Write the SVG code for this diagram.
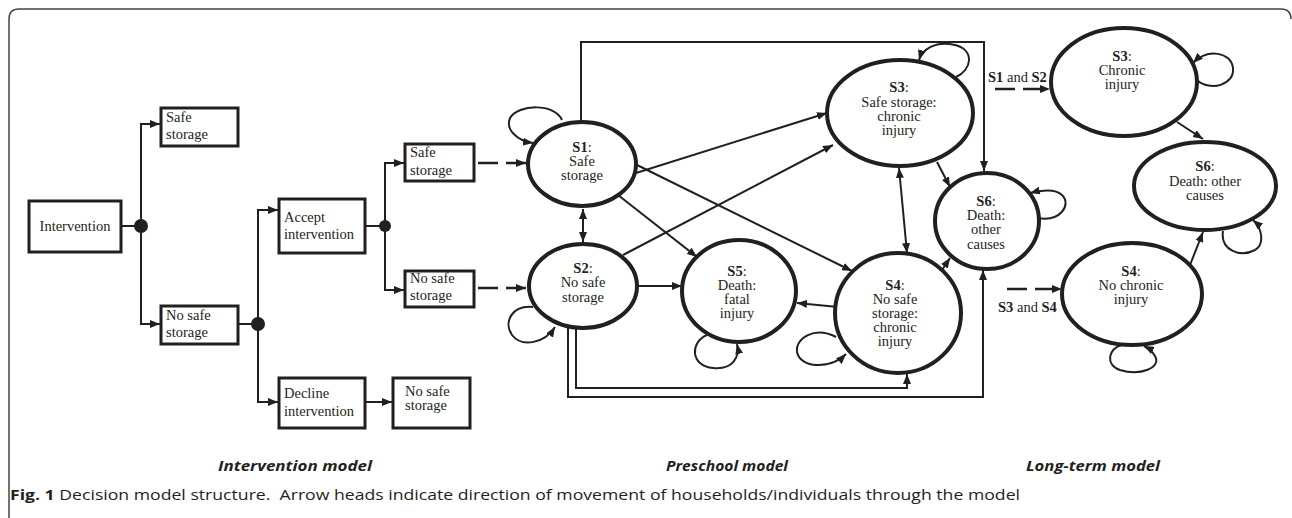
<svg xmlns="http://www.w3.org/2000/svg" width="1292" height="518" viewBox="0 0 1292 518">
<style>
.t{font-family:"Liberation Serif","Times New Roman",serif;font-size:14.5px;fill:#231f20}
.c{text-anchor:middle}
.b{font-weight:bold}
.box{fill:#fff;stroke:#231f20;stroke-width:3}
.ell{fill:#fff;stroke:#231f20;stroke-width:4}
.ln{fill:none;stroke:#231f20;stroke-width:2}
.dash{fill:none;stroke:#231f20;stroke-width:2.5;stroke-dasharray:20,8}
.dot{fill:#231f20}
.cap{font-family:"Open Sans","Liberation Sans",sans-serif;font-style:italic;font-weight:bold;font-size:14px;fill:#231f20}
.fig{font-family:"Open Sans","Liberation Sans",sans-serif;font-size:15px;fill:#231f20}
</style>
<defs>
<marker id="ah" viewBox="0 0 10 8" refX="10" refY="4" markerWidth="10" markerHeight="8" orient="auto-start-reverse" markerUnits="userSpaceOnUse"><path d="M0,0 L10,4 L0,8 z" fill="#231f20"/></marker>
</defs>
<rect width="1292" height="518" fill="#fff"/>
<path d="M9,518 V19 Q9,9 19,9 H1281 Q1291,9 1291,19" fill="none" stroke="#444" stroke-width="1.5"/>

<g id="connectors">
<path class="ln" d="M121,226 H141"/>
<path class="ln" d="M141,226 V124 H160" marker-end="url(#ah)"/>
<path class="ln" d="M141,226 V324 H160" marker-end="url(#ah)"/>
<path class="ln" d="M238,324 H258"/>
<path class="ln" d="M258,324 V210 H278" marker-end="url(#ah)"/>
<path class="ln" d="M258,324 V402 H278" marker-end="url(#ah)"/>
<path class="ln" d="M365,226 H385"/>
<path class="ln" d="M385,226 V163 H404" marker-end="url(#ah)"/>
<path class="ln" d="M385,226 V290 H404" marker-end="url(#ah)"/>
<path class="ln" d="M365,402 H392" marker-end="url(#ah)"/>
<circle class="dot" cx="141" cy="226" r="7"/>
<circle class="dot" cx="258" cy="324" r="7"/>
<circle class="dot" cx="385" cy="226" r="6"/>
<path class="dash" d="M478,163 H526" marker-end="url(#ah)"/>
<path class="dash" d="M478,288 H526" marker-end="url(#ah)"/>

<path class="ln" d="M581,122 V42 H984 V171" marker-end="url(#ah)"/>
<path class="ln" d="M583,209 V242" marker-start="url(#ah)" marker-end="url(#ah)"/>
<path class="ln" d="M636,173 L827,113" marker-end="url(#ah)"/>
<path class="ln" d="M623,255 L833,145" marker-end="url(#ah)"/>
<path class="ln" d="M618,195 L697,257" marker-end="url(#ah)"/>
<path class="ln" d="M637,165 L852,271" marker-end="url(#ah)"/>
<path class="ln" d="M637,286 L682,286" marker-end="url(#ah)"/>
<path class="ln" d="M838,307 L797,303" marker-end="url(#ah)"/>
<path class="ln" d="M899,168 L907,253" marker-start="url(#ah)" marker-end="url(#ah)"/>
<path class="ln" d="M937,162 L950,187" marker-end="url(#ah)"/>
<path class="ln" d="M942,270 L950,258" marker-end="url(#ah)"/>
<path class="ln" d="M576,328 V388 H907 V374" marker-end="url(#ah)"/>
<path class="ln" d="M568,328 V397 H983 V270" marker-end="url(#ah)"/>

<path class="ln" d="M562,120 C555,103 518,104 510,118 C505,130 518,141 533,143" marker-end="url(#ah)"/>
<path class="ln" d="M533,307 C512,305 503,322 512,335 C522,348 545,343 555,327" marker-end="url(#ah)"/>
<path class="ln" d="M956,77 C972,70 975,50 955,45 C935,40 922,50 919,60" marker-end="url(#ah)"/>
<path class="ln" d="M707,335 C690,342 690,366 713,368 C733,370 740,357 737,344" marker-end="url(#ah)"/>
<path class="ln" d="M836,337 C815,326 795,338 797,352 C800,368 830,370 846,354" marker-end="url(#ah)"/>
<path class="ln" d="M1038,218 C1060,222 1072,205 1062,195 C1055,188 1042,190 1030,193" marker-end="url(#ah)"/>

<path class="dash" d="M995,89 H1050" marker-end="url(#ah)"/>
<path class="dash" d="M1007,289 H1062" marker-end="url(#ah)"/>
<path class="ln" d="M1177,122 L1203,139" marker-end="url(#ah)"/>
<path class="ln" d="M1190,265 L1203,232" marker-end="url(#ah)"/>
<path class="ln" d="M1197,80 C1210,92 1235,85 1233,68 C1231,52 1208,48 1193,63" marker-end="url(#ah)"/>
<path class="ln" d="M1223,231 C1220,250 1240,258 1255,250 C1265,244 1262,228 1253,220" marker-end="url(#ah)"/>
<path class="ln" d="M1122,345 C1108,348 1105,365 1120,370 C1140,376 1162,368 1155,356 C1152,351 1148,348 1144,346" marker-end="url(#ah)"/>
</g>

<g id="n-intervention"><rect class="box" x="29" y="201" width="92" height="51"/><text class="t c" x="75" y="231">Intervention</text></g>
<g id="n-safe1"><rect class="box" x="161" y="108" width="77" height="38"/><text class="t" x="166" y="122">Safe</text><text class="t" x="166" y="139">storage</text></g>
<g id="n-nosafe1"><rect class="box" x="161" y="306" width="77" height="38"/><text class="t" x="166" y="320">No safe</text><text class="t" x="166" y="337">storage</text></g>
<g id="n-accept"><rect class="box" x="279" y="199" width="86" height="54"/><text class="t" x="284" y="222">Accept</text><text class="t" x="284" y="239">intervention</text></g>
<g id="n-decline"><rect class="box" x="279" y="378" width="86" height="50"/><text class="t" x="284" y="398">Decline</text><text class="t" x="284" y="416">intervention</text></g>
<g id="n-safe2"><rect class="box" x="405" y="144" width="69" height="37"/><text class="t" x="410" y="157">Safe</text><text class="t" x="410" y="175">storage</text></g>
<g id="n-nosafe2"><rect class="box" x="405" y="271" width="69" height="36"/><text class="t" x="410" y="283">No safe</text><text class="t" x="410" y="300">storage</text></g>
<g id="n-nosafe3"><rect class="box" x="393" y="378" width="77" height="50"/><text class="t" x="405" y="396">No safe</text><text class="t" x="405" y="410">storage</text></g>

<g id="n-s1"><ellipse class="ell" cx="582" cy="164" rx="54" ry="42"/><text class="t c" x="582" y="152"><tspan class="b">S1</tspan>:</text><text class="t c" x="582" y="166">Safe</text><text class="t c" x="582" y="180">storage</text></g>
<g id="n-s2"><ellipse class="ell" cx="583" cy="286" rx="54" ry="42"/><text class="t c" x="583" y="273"><tspan class="b">S2</tspan>:</text><text class="t c" x="583" y="287">No safe</text><text class="t c" x="583" y="302">storage</text></g>
<g id="n-s3"><ellipse class="ell" cx="900" cy="113" rx="73" ry="53"/><text class="t c" x="899" y="92"><tspan class="b">S3</tspan>:</text><text class="t c" x="899" y="107">Safe storage:</text><text class="t c" x="899" y="121">chronic</text><text class="t c" x="899" y="135">injury</text></g>
<g id="n-s5"><ellipse class="ell" cx="739" cy="291" rx="57" ry="51"/><text class="t c" x="737" y="276"><tspan class="b">S5</tspan>:</text><text class="t c" x="737" y="290">Death:</text><text class="t c" x="737" y="304">fatal</text><text class="t c" x="737" y="318">injury</text></g>
<g id="n-s4"><ellipse class="ell" cx="898" cy="313" rx="63" ry="60"/><text class="t c" x="895" y="290"><tspan class="b">S4</tspan>:</text><text class="t c" x="895" y="304">No safe</text><text class="t c" x="895" y="318">storage:</text><text class="t c" x="895" y="332">chronic</text><text class="t c" x="895" y="346">injury</text></g>
<g id="n-s6"><ellipse class="ell" cx="987" cy="221" rx="52" ry="48"/><text class="t c" x="986" y="206"><tspan class="b">S6</tspan>:</text><text class="t c" x="986" y="220">Death:</text><text class="t c" x="986" y="234">other</text><text class="t c" x="986" y="249">causes</text></g>

<g id="n-lt-s3"><ellipse class="ell" cx="1124" cy="82" rx="73" ry="54"/><text class="t c" x="1122" y="61"><tspan class="b">S3</tspan>:</text><text class="t c" x="1122" y="75">Chronic</text><text class="t c" x="1122" y="89">injury</text></g>
<g id="n-lt-s6"><ellipse class="ell" cx="1205" cy="186" rx="71" ry="44"/><text class="t c" x="1205" y="171"><tspan class="b">S6</tspan>:</text><text class="t c" x="1205" y="186">Death: other</text><text class="t c" x="1205" y="200">causes</text></g>
<g id="n-lt-s4"><ellipse class="ell" cx="1132" cy="294" rx="70" ry="51"/><text class="t c" x="1131" y="276"><tspan class="b">S4</tspan>:</text><text class="t c" x="1131" y="290">No chronic</text><text class="t c" x="1131" y="304">injury</text></g>

<g id="labels">
<text class="t" x="988" y="82"><tspan class="b">S1</tspan> and <tspan class="b">S2</tspan></text>
<text class="t" x="998" y="312"><tspan class="b">S3</tspan> and <tspan class="b">S4</tspan></text>
<text class="cap" x="218" y="471" textLength="154" lengthAdjust="spacingAndGlyphs">Intervention model</text>
<text class="cap" x="666" y="471" textLength="122" lengthAdjust="spacingAndGlyphs">Preschool model</text>
<text class="cap" x="1026" y="471" textLength="134" lengthAdjust="spacingAndGlyphs">Long-term model</text>
<text class="fig" x="10" y="500" textLength="1010" lengthAdjust="spacingAndGlyphs"><tspan font-weight="bold">Fig. 1</tspan> Decision model structure.&#160; Arrow heads indicate direction of movement of households/individuals through the model</text>
</g>
</svg>
